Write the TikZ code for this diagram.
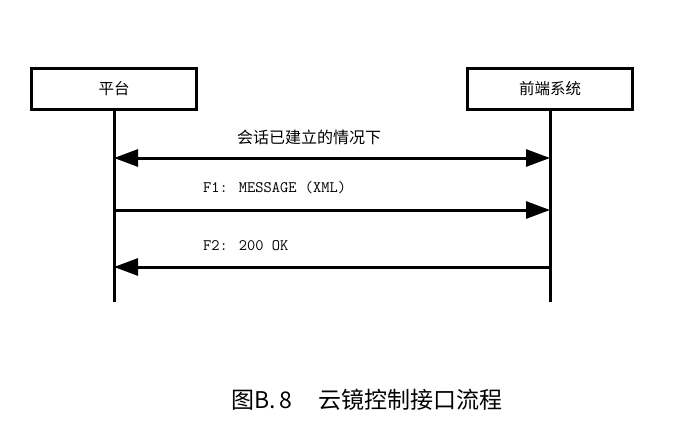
\documentclass[tikz,border=0pt]{standalone}
\usepackage{fontspec}
\setmainfont{Liberation Serif}
\newfontfamily\cjk{Noto Sans CJK SC}
\usetikzlibrary{arrows.meta}
\begin{document}
\begin{tikzpicture}[x=1pt,y=-1pt,
  actor/.style={draw,line width=3pt,minimum width=165pt,minimum height=41pt,inner sep=0pt,font=\cjk\fontsize{15.5}{18}\selectfont},
  life/.style={line width=3pt},
  msg/.style={line width=3pt,-{Triangle[length=24pt,width=17pt]}},
  bimsg/.style={line width=3pt,{Triangle[length=24pt,width=17pt]}-{Triangle[length=24pt,width=17pt]}},
  lbl/.style={inner sep=0pt,anchor=west,font=\ttfamily\fontsize{16}{18}\selectfont}]
\useasboundingbox (0,0) rectangle (686,431);
\node[actor] (A) at (114,89) {平台};
\node[actor] (B) at (550,89) {前端系统};
\coordinate (Aend) at (114,302);
\coordinate (Bend) at (550,302);
\draw[life] (A.south) -- (Aend);
\draw[life] (B.south) -- (Bend);
\coordinate (a1) at (114,158); \coordinate (b1) at (550,158);
\coordinate (a2) at (114,210); \coordinate (b2) at (550,210);
\coordinate (a3) at (114,267); \coordinate (b3) at (550,267);
\draw[bimsg] (a1) -- (b1);
\draw[msg] (a2) -- (b2);
\draw[msg] (b3) -- (a3);
\node[inner sep=0pt,font=\cjk\fontsize{16}{18}\selectfont] (l1) at (309,137) {会话已建立的情况下};
\node[lbl] (l2) at (203,188) {F1: MESSAGE (XML)};
\node[lbl] (l3) at (203,246) {F2: 200 OK};
\node[inner sep=0pt,anchor=west,font=\cjk\fontsize{23}{26}\selectfont] (cap) at (231,400) {图B.\,8\hspace{26pt}云镜控制接口流程};
\end{tikzpicture}
\end{document}
